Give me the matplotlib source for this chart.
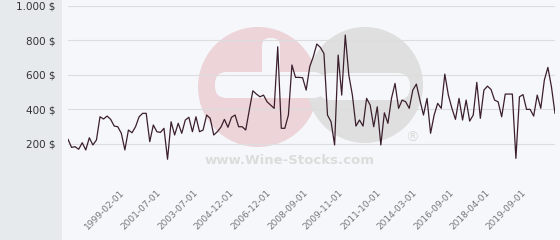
import numpy as np
import matplotlib
matplotlib.use("Agg")
import matplotlib.pyplot as plt
from matplotlib.patches import Circle, Rectangle, FancyBboxPatch

# prix (en $)
prix = [225, 178, 182, 167, 205, 163, 234, 192, 221, 356,
        343, 360, 341, 302, 298, 260, 163, 279, 263, 298,
        356, 376, 376, 211, 308, 269, 265, 289, 109, 327,
        250, 318, 260, 337, 353, 269, 356, 269, 279, 366,
        347, 250, 269, 295, 341, 295, 353, 366, 298, 298,
        279, 395, 507, 488, 472, 482, 443, 424, 405, 763,
        289, 289, 366, 657, 585, 585, 583, 511, 647, 705,
        779, 759, 724, 366, 327, 192, 715, 482, 831, 598,
        482, 302, 337, 302, 463, 424, 298, 414, 192, 379,
        318, 463, 550, 405, 453, 443, 405, 511, 546, 453,
        366, 463, 260, 366, 434, 405, 604, 482, 405, 341,
        463, 337, 453, 331, 366, 556, 347, 511, 534, 515,
        453, 443, 356, 488, 488, 488, 114, 472, 485, 399,
        399, 360, 482, 405, 569, 643, 530, 376]

etiquettes = ["1999-02-01", "2001-07-01", "2003-07-01", "2004-12-01",
              "2006-12-01", "2008-09-01", "2009-11-01", "2011-10-01",
              "2014-03-01", "2016-09-01", "2018-04-01", "2019-09-01"]
pos_etiquettes = [14.5, 24.9, 35.3, 45.5, 55.7, 66.1, 76.2, 86.7, 96.8, 107.2, 117.4, 127.5]

niveaux = [200, 400, 600, 800, 1000]
textes_y = ["200 $", "400 $", "600 $", "800 $", "1.000 $"]

W, H = 560, 240
fig = plt.figure(figsize=(W / 100, H / 100), dpi=100)
fig.patch.set_facecolor("#f6f7fa")

# fond + filigrane, en pixels
fond = fig.add_axes([0, 0, 1, 1], zorder=0)
fond.set_xlim(0, W)
fond.set_ylim(H, 0)
fond.axis("off")
fond.add_patch(Rectangle((0, 0), 62, H, color="#e6eaed", lw=0))
fond.add_patch(Circle((258, 87), 60, color="#ecd4d9", lw=0))
fond.add_patch(Circle((365, 85), 58, color="#dfdfdf", lw=0))
fond.add_patch(FancyBboxPatch((262, 38), 18, 40, boxstyle="round,pad=0,rounding_size=8",
                              color="#f6f7fa", lw=0))
fond.add_patch(FancyBboxPatch((215, 72), 110, 26, boxstyle="round,pad=0,rounding_size=12",
                              color="#f6f7fa", lw=0))
fond.add_patch(FancyBboxPatch((318, 73), 92, 27, boxstyle="round,pad=0,rounding_size=13",
                              color="#f6f7fa", lw=0))
fond.text(290, 160, "www.Wine-Stocks.com", ha="center", va="center",
          fontsize=9.5, fontweight="bold", color="#dcdcdc")
fond.text(412, 138, "®", ha="center", va="center", fontsize=10, color="#dcdcdc")

ax = fig.add_axes([68 / W, 62 / H, (555 - 68) / W, 172 / H], zorder=1)
ax.patch.set_alpha(0)
x = np.arange(len(prix))
ax.plot(x, prix, color="#3b1f2c", lw=0.9)
ax.axhline(0, color="#dddddd", lw=0.8, zorder=0)

ax.set_xlim(0, len(prix) - 1)
ax.set_ylim(0, 1000)
ax.set_yticks(niveaux)
ax.set_yticklabels(textes_y, fontsize=7.5, color="#333333")
ax.grid(True, axis="y", color="#dddddd", lw=0.8)
ax.set_xticks(pos_etiquettes)
ax.set_xticklabels(etiquettes, rotation=45, ha="right", va="top",
                   rotation_mode="anchor", fontsize=6.5, color="#777777")
ax.tick_params(axis="both", which="both", length=0)
ax.tick_params(axis="y", pad=9)
ax.tick_params(axis="x", pad=7)
for s in ax.spines.values():
    s.set_visible(False)

fig.savefig("out.png", dpi=100, facecolor=fig.get_facecolor())
